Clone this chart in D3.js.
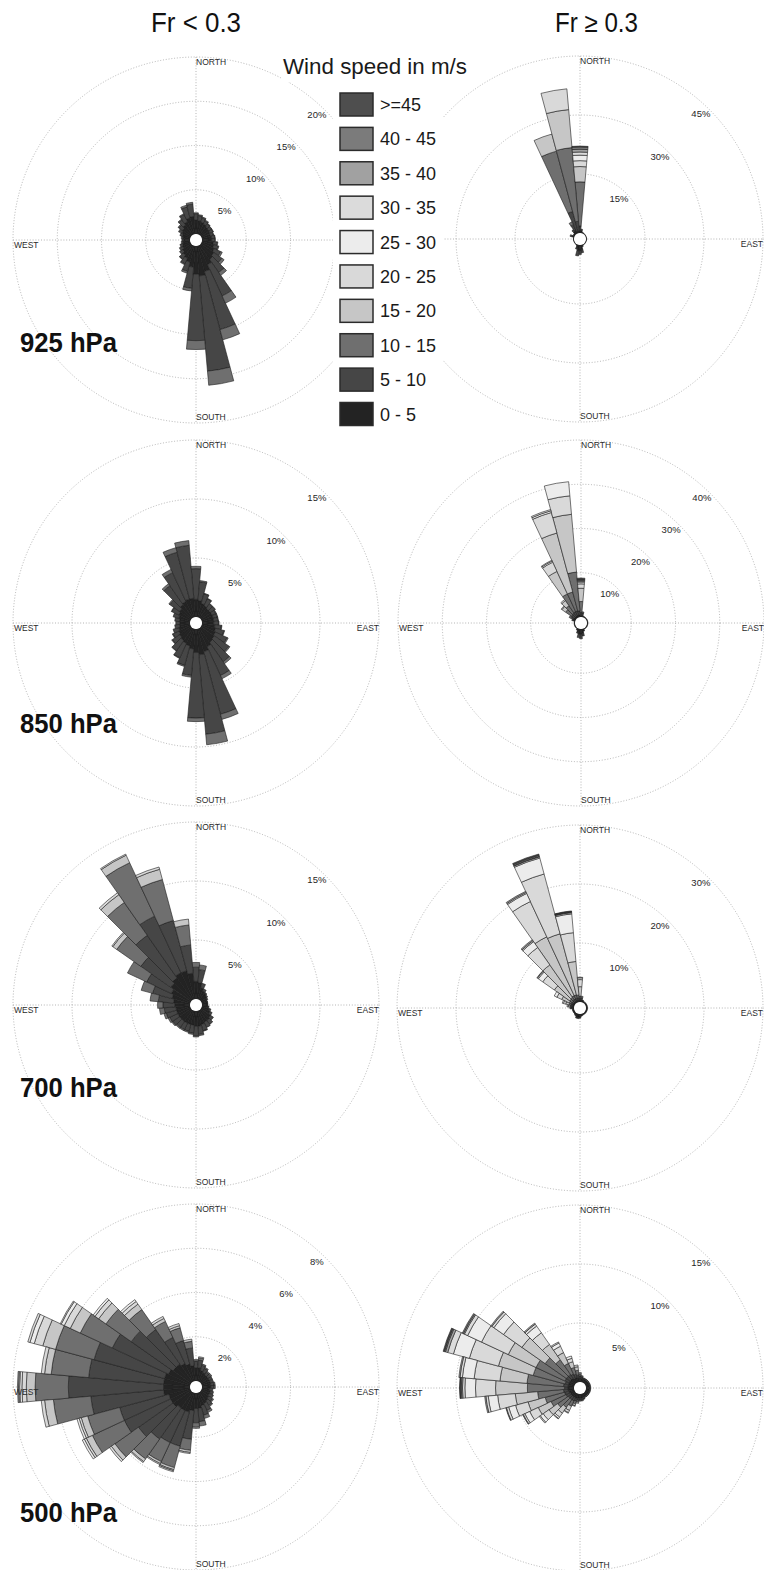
<!DOCTYPE html>
<html>
<head>
<meta charset="utf-8">
<script src="https://cdn.jsdelivr.net/npm/d3@7"></script>
<style>
  html, body { margin: 0; padding: 0; background: #fff; }
  svg { display: block; }
  text { font-family: "Liberation Sans", Arial, sans-serif; }
</style>
</head>
<body>
<svg id="chart" width="764" height="1570"></svg>
<script>
// Speed classes (m/s) and their grey shades
const speedBins = ["0 - 5", "5 - 10", "10 - 15", "15 - 20", "20 - 25", "25 - 30", "30 - 35", "35 - 40", "40 - 45", ">=45"];
const binColors = ["#232323", "#464646", "#6f6f6f", "#c6c6c6", "#d9d9d9", "#ececec", "#dbdbdb", "#a1a1a1", "#7b7b7b", "#4e4e4e"];
const columnTitles = ["Fr < 0.3", "Fr \u2265 0.3"];
const levelLabels = ["925 hPa", "850 hPa", "700 hPa", "500 hPa"];

// Ring ticks (percent of occurrence) for each rose
const ticks925lo = [5, 10, 15, 20];
const ticks925hi = [15, 30, 45];
const ticks850lo = [5, 10, 15];
const ticks850hi = [10, 20, 30, 40];
const ticks700lo = [5, 10, 15];
const ticks700hi = [10, 20, 30];
const ticks500lo = [2, 4, 6, 8];
const ticks500hi = [5, 10, 15];

// Each row: [direction (deg), % in class 0-5, 5-10, 10-15, ...]; missing classes are 0
const p925lo = [
  [0, 1.6, 0.7, 0.1], [10, 1.5, 0.6, 0.1], [20, 1.4, 0.5, 0.1], [30, 1.3, 0.4, 0.1],
  [40, 1.2, 0.35, 0.05], [50, 1.1, 0.35, 0.05], [60, 1.1, 0.35, 0.05], [70, 1.0, 0.35, 0.05],
  [80, 1.1, 0.35, 0.05], [90, 1.1, 0.35, 0.05], [100, 1.3, 0.4, 0.1], [110, 1.4, 0.5, 0.1],
  [120, 1.6, 0.8, 0.2], [130, 1.8, 1.1, 0.3], [140, 2.0, 1.8, 0.4], [150, 2.4, 3.9, 0.9],
  [160, 3.0, 6.8, 1.2], [170, 3.4, 10.8, 1.6], [180, 3.2, 7.5, 1.0], [190, 2.4, 2.4, 0.3],
  [200, 1.9, 1.1, 0.2], [210, 1.6, 0.7, 0.1], [220, 1.4, 0.55, 0.05], [230, 1.2, 0.4],
  [240, 1.0, 0.4], [250, 0.9, 0.3], [260, 0.8, 0.2], [270, 0.7, 0.2],
  [280, 0.8, 0.2], [290, 0.9, 0.3], [300, 1.1, 0.4], [310, 1.2, 0.5, 0.1],
  [320, 1.4, 0.7, 0.1], [330, 1.6, 0.9, 0.1], [340, 1.9, 1.3, 0.2], [350, 2.0, 1.4, 0.2]
];

const p925hi = [
  [0, 0.5, 1.3, 11.2, 3.9, 1.5, 1.4, 0.8, 0.7, 0.6, 0.2], [10, 0.6, 0.4], [20, 0.3], [30, 0.2],
  [40, 0.15], [50, 0.15], [60, 0.15], [70, 0.15], [80, 0.15], [90, 0.15], [100, 0.15], [110, 0.15],
  [120, 0.15], [130, 0.15], [140, 0.15], [150, 0.15], [160, 0.5], [170, 1.2, 0.8], [180, 1.4, 1.0],
  [190, 1.5, 1.3], [200, 0.8, 0.4], [210, 0.3], [220, 0.15], [230, 0.15], [240, 0.15], [250, 0.15],
  [260, 0.15], [270, 0.15], [280, 0.15], [290, 0.6, 0.5], [300, 0.4], [310, 0.5], [320, 0.8, 0.6],
  [330, 1.0, 1.5, 0.8], [340, 0.5, 5.2, 15.9, 4.5], [350, 0.5, 2.5, 18.8, 9.7, 5.3]
];

const p850lo = [
  [0, 1.5, 2.6, 0.2], [10, 1.4, 1.6, 0.1], [20, 1.2, 0.85, 0.05], [30, 1.1, 0.65, 0.05],
  [40, 1.0, 0.45, 0.05], [50, 1.0, 0.45, 0.05], [60, 1.0, 0.35, 0.05], [70, 1.0, 0.35, 0.05],
  [80, 1.0, 0.35, 0.05], [90, 1.0, 0.4, 0.05], [100, 1.1, 0.55, 0.05], [110, 1.2, 0.75, 0.05],
  [120, 1.3, 1.1, 0.1], [130, 1.4, 1.5, 0.1], [140, 1.5, 2.0, 0.2], [150, 1.7, 2.7, 0.3],
  [160, 2.0, 5.5, 0.45], [170, 2.2, 6.75, 0.9], [180, 2.0, 5.55, 0.3], [190, 1.7, 2.25, 0.15],
  [200, 1.5, 1.7, 0.1], [210, 1.4, 1.35, 0.05], [220, 1.3, 1.05, 0.05], [230, 1.2, 0.75, 0.05],
  [240, 1.1, 0.55, 0.05], [250, 1.0, 0.5], [260, 0.9, 0.4], [270, 0.85, 0.35],
  [280, 0.9, 0.4], [290, 1.0, 0.5], [300, 1.1, 0.65, 0.05], [310, 1.2, 1.0, 0.1],
  [320, 1.4, 1.95, 0.2], [330, 1.5, 2.7, 0.3], [340, 1.6, 4.1, 0.4], [350, 1.6, 4.5, 0.4]
];

const p850hi = [
  [0, 0.3, 0.7, 2.5, 3.0, 1.0, 0.4, 0.2, 0.2, 0.2, 0.3], [10, 0.4, 0.5, 0.3], [20, 0.3], [30, 0.2],
  [40, 0.2], [50, 0.2], [60, 0.2], [70, 0.2], [80, 0.2], [90, 0.2], [100, 0.2], [110, 0.2],
  [120, 0.2], [130, 0.2], [140, 0.2], [150, 0.2], [160, 0.6], [170, 1.0, 0.6], [180, 1.2, 1.0],
  [190, 1.2, 0.8], [200, 0.8, 0.3], [210, 0.5], [220, 0.2], [230, 0.2], [240, 0.2], [250, 0.2],
  [260, 0.2], [270, 0.2], [280, 0.2], [290, 0.5, 0.3], [300, 0.5, 0.6, 0.5],
  [310, 0.5, 0.8, 1.6, 1.0, 0.2], [320, 0.5, 0.9, 2.0, 1.4, 0.3],
  [330, 0.5, 1.0, 4.4, 5.6, 2.3, 0.3, 0.2], [340, 0.5, 1.0, 4.4, 13.8, 4.8, 0.4, 0.3],
  [350, 0.5, 0.9, 8.8, 13.1, 4.2, 3.2]
];

const p700lo = [
  [0, 1.5, 1.2, 0.4], [10, 1.4, 1.1, 0.4], [20, 1.0, 0.4], [30, 0.8, 0.2],
  [40, 0.7, 0.1], [50, 0.6, 0.1], [60, 0.5, 0.1], [70, 0.45, 0.05],
  [80, 0.45, 0.05], [90, 0.45, 0.05], [100, 0.5, 0.1], [110, 0.65, 0.15],
  [120, 0.8, 0.2], [130, 1.0, 0.3], [140, 1.1, 0.4], [150, 1.1, 0.5],
  [160, 1.2, 0.55, 0.05], [170, 1.3, 0.7, 0.1], [180, 1.3, 0.8, 0.1], [190, 1.2, 0.7, 0.1],
  [200, 1.2, 0.6, 0.1], [210, 1.2, 0.6, 0.1], [220, 1.2, 0.6, 0.1], [230, 1.2, 0.7, 0.1],
  [240, 1.2, 0.75, 0.15], [250, 1.2, 0.9, 0.2], [260, 1.2, 1.0, 0.4], [270, 1.3, 1.0, 0.45],
  [280, 1.4, 1.3, 0.7], [290, 1.6, 1.7, 1.0], [300, 1.8, 2.3, 1.8], [310, 2.1, 3.1, 2.5, 0.4, 0.1],
  [320, 2.3, 4.4, 3.4, 0.8, 0.2], [330, 2.5, 5.3, 5.0, 0.7, 0.1], [340, 2.5, 4.4, 3.6, 0.9, 0.2],
  [350, 2.2, 2.4, 1.7, 0.5]
];

const p700hi = [
  [0, 0.3, 0.3, 0.4, 1.6, 1.2, 0.3, 0.1], [10, 0.3, 0.4, 0.3], [20, 0.3, 0.1], [30, 0.25],
  [40, 0.25], [50, 0.25], [60, 0.25], [70, 0.25], [80, 0.25], [90, 0.25], [100, 0.25], [110, 0.25],
  [120, 0.25], [130, 0.25], [140, 0.25], [150, 0.25], [160, 0.3], [170, 0.4], [180, 0.5, 0.2],
  [190, 0.6, 0.2], [200, 0.6, 0.2], [210, 0.5], [220, 0.4], [230, 0.3], [240, 0.3], [250, 0.3],
  [260, 0.3], [270, 0.3, 0.2, 0.1, 0.1], [280, 0.3, 0.2, 0.2, 0.3, 0.2], [290, 0.3, 0.3, 0.3, 0.6, 0.4, 0.2],
  [300, 0.3, 0.3, 0.4, 1.4, 0.9, 0.5], [310, 0.3, 0.3, 0.5, 3.2, 2.4, 0.9, 0.2, 0.1],
  [320, 0.3, 0.4, 0.5, 6.7, 3.6, 1.2, 0.2, 0.2], [330, 0.3, 0.4, 0.6, 11.0, 6.6, 1.5, 0.2, 0.2],
  [340, 0.3, 0.4, 0.6, 10.7, 10.5, 2.8, 0.2, 0.1, 0.2, 0.2], [350, 0.3, 0.4, 0.5, 5.7, 4.9, 3.2, 0.2, 0.1, 0.1, 0.1]
];

const p500lo = [
  [0, 0.6, 0.3, 0.07], [10, 0.6, 0.35, 0.1, 0.05], [20, 0.5, 0.25, 0.05], [30, 0.45, 0.2, 0.05],
  [40, 0.4, 0.15, 0.05], [50, 0.4, 0.15, 0.05], [60, 0.4, 0.15], [70, 0.4, 0.15],
  [80, 0.4, 0.15, 0.05], [90, 0.4, 0.15, 0.05], [100, 0.35, 0.15], [110, 0.4, 0.15],
  [120, 0.4, 0.2], [130, 0.45, 0.2, 0.05], [140, 0.5, 0.25, 0.05], [150, 0.55, 0.35, 0.1],
  [160, 0.6, 0.45, 0.15], [170, 0.7, 0.6, 0.2], [180, 0.7, 0.65, 0.2, 0.05], [190, 0.8, 1.3, 0.5, 0.1, 0.05],
  [200, 0.9, 1.6, 1.0, 0.1, 0.05, 0.05], [210, 0.9, 1.6, 0.95, 0.1, 0.05], [220, 0.9, 1.7, 1.1, 0.15, 0.05],
  [230, 1.0, 1.9, 1.3, 0.2, 0.1], [240, 1.0, 2.3, 1.6, 0.3, 0.1, 0.1], [250, 1.0, 2.3, 1.5, 0.3, 0.1, 0.1],
  [260, 1.2, 3.3, 1.7, 0.4, 0.15], [270, 1.2, 4.3, 1.5, 0.4, 0.2, 0.1, 0.05, 0.05],
  [280, 1.2, 3.4, 1.7, 0.3, 0.15], [290, 1.2, 3.3, 1.8, 0.6, 0.4, 0.2, 0.1],
  [300, 1.1, 2.8, 1.6, 0.5, 0.3, 0.15, 0.05], [310, 1.0, 2.3, 1.4, 0.4, 0.2, 0.1],
  [320, 1.0, 1.9, 1.1, 0.3, 0.15, 0.1], [330, 0.9, 1.3, 0.8, 0.15, 0.1],
  [340, 0.8, 1.1, 0.6, 0.1, 0.1], [350, 0.7, 0.8, 0.3, 0.1]
];

const p500hi = [
  [0, 0.3, 0.2, 0.2, 0.1], [10, 0.3, 0.15, 0.1], [20, 0.3, 0.1], [30, 0.3, 0.1],
  [40, 0.3, 0.1], [50, 0.3, 0.1], [60, 0.3, 0.1], [70, 0.3, 0.1], [80, 0.3, 0.1], [90, 0.3, 0.1],
  [100, 0.3, 0.1], [110, 0.3, 0.1], [120, 0.3, 0.1], [130, 0.3, 0.1], [140, 0.3, 0.1], [150, 0.3, 0.1],
  [160, 0.3, 0.15, 0.05], [170, 0.35, 0.15, 0.1], [180, 0.35, 0.15, 0.1], [190, 0.35, 0.2, 0.15, 0.1],
  [200, 0.4, 0.25, 0.25, 0.15, 0.05], [210, 0.4, 0.3, 0.5, 0.4, 0.2, 0.05],
  [220, 0.4, 0.3, 0.8, 0.6, 0.4, 0.15, 0.05], [230, 0.4, 0.3, 1.1, 0.9, 0.6, 0.3, 0.1],
  [240, 0.4, 0.4, 1.4, 1.2, 0.8, 0.45, 0.15, 0.05], [250, 0.45, 0.4, 1.7, 1.5, 1.1, 0.6, 0.2, 0.05],
  [260, 0.5, 0.4, 2.2, 1.9, 1.5, 0.8, 0.2, 0.1], [270, 0.5, 0.3, 3.15, 2.7, 1.7, 0.9, 0.2, 0.1, 0.1, 0.05],
  [280, 0.5, 0.4, 3.1, 2.3, 2.2, 1.0, 0.2, 0.1], [290, 0.5, 0.3, 2.8, 3.05, 2.55, 1.4, 0.5, 0.2, 0.1, 0.1],
  [300, 0.5, 0.4, 2.7, 2.6, 2.5, 1.3, 0.3, 0.1, 0.1], [310, 0.5, 0.4, 2.2, 2.4, 1.9, 1.0, 0.2, 0.1],
  [320, 0.5, 0.4, 1.5, 1.6, 1.2, 0.7, 0.2, 0.1], [330, 0.4, 0.4, 1.0, 1.0, 0.6, 0.3, 0.1],
  [340, 0.4, 0.3, 0.6, 0.5, 0.3, 0.2], [350, 0.35, 0.25, 0.4, 0.3, 0.15]
];

// Layout of the eight roses; compass labels lying under the legend are left out
const panels = [
  { rows: p925lo, ticks: ticks925lo, cx: 196, cy: 240, level: 0, labelY: 352, hide: ["EAST"] },
  { rows: p925hi, ticks: ticks925hi, cx: 580, cy: 239, hide: ["WEST"] },
  { rows: p850lo, ticks: ticks850lo, cx: 196, cy: 623, level: 1, labelY: 733 },
  { rows: p850hi, ticks: ticks850hi, cx: 581, cy: 623 },
  { rows: p700lo, ticks: ticks700lo, cx: 196, cy: 1005, level: 2, labelY: 1097 },
  { rows: p700hi, ticks: ticks700hi, cx: 580, cy: 1008 },
  { rows: p500lo, ticks: ticks500lo, cx: 196, cy: 1387, level: 3, labelY: 1522 },
  { rows: p500hi, ticks: ticks500hi, cx: 580, cy: 1388 }
];

const svg = d3.select("#chart");
const R = 183;       // outer ring radius (px)
const R0 = 6;        // radius of the empty centre
const binKeys = speedBins.map((_, i) => "b" + i);
const toRad = d3.scaleLinear().domain([0, 360]).range([0, 2 * Math.PI]);
const arc = d3.arc();

function toRecords(rows) {
  return rows.map(row => {
    const rec = { dir: row[0] };
    binKeys.forEach((k, i) => { rec[k] = row[i + 1] || 0; });
    return rec;
  });
}

const gridStyle = sel => sel
  .attr("fill", "none")
  .attr("stroke", "#a2a2a2")
  .attr("stroke-width", 0.8)
  .attr("stroke-dasharray", "1,1.8");

const compass = [
  { name: "NORTH", x: 0, y: -R + 7.5, anchor: "start" },
  { name: "SOUTH", x: 0, y: R - 3, anchor: "start" },
  { name: "WEST", x: -R + 1, y: 8, anchor: "start" },
  { name: "EAST", x: R, y: 8, anchor: "end" }
];

panels.forEach(p => {
  const vmax = p.ticks[p.ticks.length - 1];
  const r = d3.scaleLinear().domain([0, vmax]).range([R0, R]);
  const g = svg.append("g").attr("transform", `translate(${p.cx},${p.cy})`);

  // dotted rings and cross
  g.append("g").selectAll("circle").data(p.ticks).join("circle")
    .attr("r", d => r(d)).call(gridStyle);
  g.append("line").attr("x1", -R).attr("x2", R).attr("y1", 0).attr("y2", 0).call(gridStyle);
  g.append("line").attr("y1", -R).attr("y2", R).attr("x1", 0).attr("x2", 0).call(gridStyle);

  // stacked petals
  const series = d3.stack().keys(binKeys)(toRecords(p.rows));
  series.forEach((s, bi) => {
    g.append("g").selectAll("path")
      .data(s.filter(d => d[1] > d[0]))
      .join("path")
      .attr("d", d => arc({
        innerRadius: r(d[0]),
        outerRadius: r(d[1]),
        startAngle: toRad(d.data.dir - 5),
        endAngle: toRad(d.data.dir + 5)
      }))
      .attr("fill", binColors[bi])
      .attr("stroke", "#1c1c1c")
      .attr("stroke-width", 0.6)
      .attr("stroke-linejoin", "round");
  });

  g.append("circle").attr("r", R0).attr("fill", "#fff");

  // ring labels along the north-east diagonal
  const diag = toRad(44);
  g.append("g").selectAll("text").data(p.ticks).join("text")
    .attr("x", d => (r(d) - 9) * Math.sin(diag))
    .attr("y", d => -(r(d) - 9) * Math.cos(diag) + 3.5)
    .attr("text-anchor", "middle")
    .attr("font-size", 9.5)
    .attr("fill", "#262626")
    .text(d => d + "%");

  // compass labels
  const hide = p.hide || [];
  g.append("g").attr("font-size", 8.5).attr("fill", "#2a2a2a")
    .selectAll("text").data(compass.filter(c => !hide.includes(c.name))).join("text")
    .attr("x", c => c.x).attr("y", c => c.y)
    .attr("text-anchor", c => c.anchor)
    .text(c => c.name);

  if (p.level !== undefined) {
    svg.append("text")
      .attr("x", 20).attr("y", p.labelY)
      .attr("font-size", 28).attr("font-weight", "bold").attr("fill", "#111")
      .attr("textLength", 97).attr("lengthAdjust", "spacingAndGlyphs")
      .text(levelLabels[p.level]);
  }
});

// column titles
svg.selectAll("text.col").data(columnTitles).join("text")
  .attr("class", "col")
  .attr("x", (d, i) => i === 0 ? 151 : 555)
  .attr("y", 32)
  .attr("font-size", 27)
  .attr("fill", "#111")
  .attr("textLength", (d, i) => i === 0 ? 90 : 83)
  .attr("lengthAdjust", "spacingAndGlyphs")
  .text(d => d);

// legend
svg.append("rect").attr("x", 281).attr("y", 52).attr("width", 189).attr("height", 30).attr("fill", "#fff");
svg.append("rect").attr("x", 333).attr("y", 82).attr("width", 110).attr("height", 350).attr("fill", "#fff");
svg.append("text").attr("x", 283).attr("y", 74).attr("font-size", 22).attr("fill", "#1a1a1a")
  .attr("textLength", 184).attr("lengthAdjust", "spacingAndGlyphs")
  .text("Wind speed in m/s");

const legendOrder = d3.range(speedBins.length).reverse();
const ly = d3.scalePoint().domain(legendOrder).range([93, 402.5]);
const leg = svg.append("g").selectAll("g").data(legendOrder).join("g")
  .attr("transform", d => `translate(340,${ly(d)})`);
leg.append("rect").attr("width", 33).attr("height", 23)
  .attr("fill", d => binColors[d]).attr("stroke", "#2b2b2b").attr("stroke-width", 1.5);
leg.append("text").attr("x", 40).attr("y", 18).attr("font-size", 18).attr("fill", "#1a1a1a")
  .text(d => speedBins[d]);
</script>
</body>
</html>
